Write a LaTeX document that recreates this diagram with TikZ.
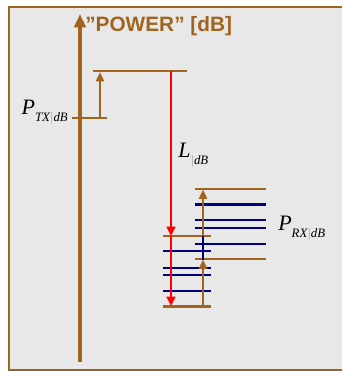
\documentclass[tikz,border=0pt]{standalone}
\usepackage{fontspec}
\setmainfont{Liberation Serif}
\setsansfont{Liberation Sans}
\usetikzlibrary{arrows.meta}
\definecolor{brn}{RGB}{160,100,30}
\definecolor{bgc}{RGB}{232,232,232}
\definecolor{nv}{RGB}{0,0,128}
\definecolor{barc}{RGB}{160,160,160}
\newcommand\symlab[2]{{\fontsize{16.5}{18}\selectfont\itshape #1}{\fontsize{9.6}{11}\selectfont\itshape\raisebox{-5pt}{#2}}}
\begin{document}
\begin{tikzpicture}[x=0.75pt,y=-0.75pt,
  brnlevel/.style={brn,line width=2.1pt},
  nvlevel/.style={nv,line width=2.1pt},
  redtip/.style={-{Triangle[length=7pt,width=6.5pt]}},
  brntip/.style={-{Triangle[length=7pt,width=6pt]}},
  symnode/.style={inner sep=0pt}]
\useasboundingbox (0,0) rectangle (342,371);
\begin{scope}
  \clip (0,0) rectangle (342,371);
  \draw[brn,line width=2pt,fill=bgc] (9,7) rectangle (352,370);
\end{scope}
% axis
\coordinate (axb) at (80,362);
\coordinate (axt) at (80,14);
\draw[brn,line width=3pt,-{Triangle[length=10pt,width=8.5pt]}] (axb) -- (axt);
\node[anchor=west,inner sep=0pt,font=\sffamily\bfseries\fontsize{15.6}{18}\selectfont,text=brn] (title) at (85,26) {”POWER” [dB]};
% TX
\coordinate (tx1) at (93,71);   \coordinate (tx2) at (187,71);
\draw[brnlevel] (tx1) -- (tx2);
\coordinate (pt1) at (72,118);  \coordinate (pt2) at (107,118);
\draw[brnlevel] (pt1) -- (pt2);
\coordinate (sa1) at (100,118); \coordinate (sa2) at (100,72);
\draw[brn,line width=1.8pt,brntip] (sa1) -- (sa2);
\node[symnode,anchor=east] (ptx) at (68,112) {\symlab{P}{TX{\color{barc}|}dB}};
% lower-left group
\foreach \y in {251,268,275,291} \draw[nvlevel] (163,\y) -- (211,\y);
\coordinate (ll1) at (163,236); \coordinate (ll2) at (211,236);
\coordinate (lb1) at (163,306.5); \coordinate (lb2) at (211,306.5);
\draw[brnlevel] (ll1) -- (ll2);
\draw[brnlevel] (lb1) -- (lb2);
% right group
\foreach \y in {204.5,220,228,244} \draw[nvlevel] (195,\y) -- (266,\y);
\coordinate (rt1) at (195,189); \coordinate (rt2) at (266,189);
\coordinate (rb1) at (195,259); \coordinate (rb2) at (266,259);
\draw[brnlevel] (rt1) -- (rt2);
\draw[brnlevel] (rb1) -- (rb2);
% red path loss
\coordinate (r0) at (171,71); \coordinate (r1) at (171,236); \coordinate (r2) at (171,306);
\draw[red,line width=2.2pt,redtip] (r0) -- (r1);
\draw[red,line width=2.2pt,redtip] (r1) -- (r2);
\node[symnode,anchor=west] (ldb) at (178,155) {\symlab{L}{{\color{barc}|}dB}};
% brown vertical
\coordinate (b0) at (203,306); \coordinate (b1) at (203,259.5); \coordinate (b2) at (203,236); \coordinate (b3) at (203,189.5);
\draw[nv,line width=2.1pt] (b1) -- (b2);
\draw[brn,line width=2.1pt,brntip] (b0) -- (b1);
\draw[brn,line width=2.1pt,brntip] (b2) -- (b3);
\node[symnode,anchor=west] (prx) at (278,228) {\symlab{P}{RX{\color{barc}|}dB}};
\end{tikzpicture}
\end{document}
